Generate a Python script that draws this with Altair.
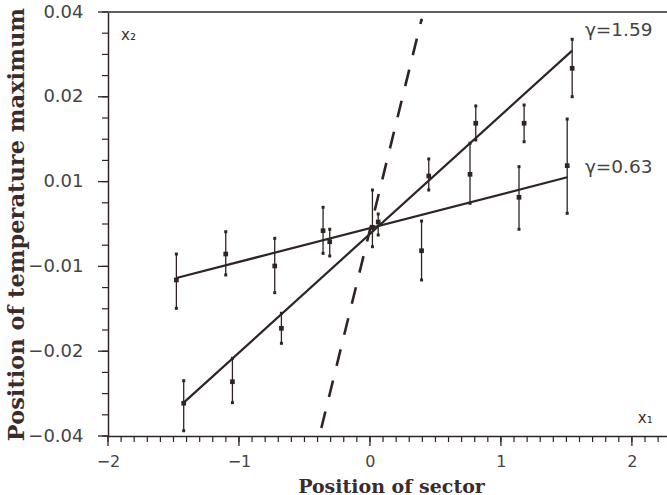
import json
import altair as alt
import pandas as pd

# ---- data (y in axis-position units: 0 = bottom tick, 5 = top tick) ----
x_low = [-1.478, -1.101, -0.727, -0.358, 0.019, 0.394, 0.764, 1.138, 1.506]
y_low = [1.840, 2.146, 2.005, 2.421, 2.461, 2.185, 3.086, 2.815, 3.188]
lo_low = [1.506, 1.899, 1.690, 2.154, 2.232, 1.840, 2.744, 2.438, 2.626]
hi_low = [2.146, 2.409, 2.331, 2.697, 2.901, 2.535, 3.452, 3.176, 3.738]

x_high = [-1.422, -1.050, -0.676, -0.307, 0.063, 0.449, 0.808, 1.177, 1.544]
y_high = [0.386, 0.640, 1.270, 2.291, 2.524, 3.066, 3.688, 3.688, 4.336]
lo_high = [0.062, 0.393, 1.093, 2.123, 2.370, 2.901, 3.491, 3.470, 4.001]
hi_high = [0.652, 0.916, 1.447, 2.438, 2.618, 3.267, 3.892, 3.903, 4.678]

fit_series = ["γ=0.63", "γ=0.63", "γ=1.59", "γ=1.59"]
fit_x = [-1.478, 1.506, -1.422, 1.544]
fit_y = [1.863, 3.051, 0.393, 4.544]

dash_x = [-0.371, 0.393]
dash_y = [0.094, 4.906]

ann_text = ["γ=1.59", "γ=0.63"]
ann_x = [1.641, 1.641]
ann_y = [4.788, 3.172]

var_text = ["x₂", "x₁"]
var_x = [-1.90, 2.045]
var_y = [4.729, 0.212]

y_tick_labels = ["−0.04", "−0.02", "−0.01", "0.01", "0.02", "0.04"]
x_major = [-2, -1, 0, 1, 2]
y_major = [0, 1, 2, 3, 4, 5]
x_minor = [round(-2 + 0.1 * k, 1) for k in range(43)]
y_minor = [round(0.25 * k, 2) for k in range(21)]

W, H = 559, 424
INK = "#2e2424"

rows = []
for s, xs, ys, los, his in [("γ=0.63", x_low, y_low, lo_low, hi_low),
                            ("γ=1.59", x_high, y_high, lo_high, hi_high)]:
    for a, b, c, d in zip(xs, ys, los, his):
        rows.append({"series": s, "x": a, "y": b, "lo": c, "hi": d})
pts = pd.DataFrame(rows)
ends = pd.concat([pts.assign(e=pts["lo"]), pts.assign(e=pts["hi"])])
fit = pd.DataFrame({"series": fit_series, "x": fit_x, "y": fit_y})
dash = pd.DataFrame({"x": dash_x, "y": dash_y})
ann = pd.DataFrame({"t": ann_text, "x": ann_x, "y": ann_y})
var = pd.DataFrame({"t": var_text, "x": var_x, "y": var_y})

labels_js = json.dumps(y_tick_labels, ensure_ascii=False)

xscale = alt.Scale(domain=[-2, 2.268], nice=False, zero=False)
yscale = alt.Scale(domain=[0, 5], nice=False, zero=False)

xaxis = alt.Axis(
    values=x_major, format=".0f", ticks=False,
    grid=False, labelFlush=False, labelOverlap=False, labelPadding=17,
    labelFont="DejaVu Sans", labelFontSize=16, labelColor="#444",
    domainColor=INK, domainWidth=1.5,
    title="Position of sector", titleFont="DejaVu Serif", titleFontSize=19,
    titleFontWeight="bold", titleColor="#3a2c2c", titleX=283, titleY=56,
    titleBaseline="alphabetic", titleAlign="center",
)
yaxis = alt.Axis(
    values=y_major, ticks=False,
    labelExpr=f"{labels_js}[round(datum.value)]",
    grid=False, labelFlush=False, labelOverlap=False, labelPadding=25,
    labelFont="DejaVu Sans", labelFontSize=18, labelColor="#444",
    domainColor=INK, domainWidth=1.5,
    title="Position of temperature maximum", titleFont="DejaVu Serif",
    titleFontSize=22.5, titleFontWeight="bold", titleColor="#3a2c2c",
    titleX=-92, titleY=212, titleAngle=-90, titleBaseline="middle", titleAlign="center",
)

X = lambda f: alt.X(f, scale=xscale)
Y = lambda f: alt.Y(f, scale=yscale)

bars = alt.Chart(pts).mark_rule(color=INK, strokeWidth=1.3).encode(
    x=alt.X("x:Q", scale=xscale, axis=xaxis),
    y=alt.Y("lo:Q", scale=yscale, axis=yaxis), y2="hi:Q")
caps = alt.Chart(ends).mark_point(shape="square", filled=True, size=9, color=INK, opacity=1).encode(
    x=X("x:Q"), y=Y("e:Q"))
marks = alt.Chart(pts).mark_point(shape="square", filled=True, size=22, color=INK, opacity=1).encode(
    x=X("x:Q"), y=Y("y:Q"))
lines = alt.Chart(fit).mark_line(color=INK, strokeWidth=2.2).encode(
    x=X("x:Q"), y=Y("y:Q"), detail="series:N")
dashed = alt.Chart(dash).mark_line(color=INK, strokeWidth=2.6, strokeDash=[17, 15]).encode(
    x=X("x:Q"), y=Y("y:Q"))
dot = alt.Chart(dash.tail(1)).mark_point(shape="circle", filled=True, size=10, color=INK, opacity=1).encode(
    x=X("x:Q"), y=Y("y:Q"))
ann_txt = alt.Chart(ann).mark_text(align="left", baseline="middle", font="DejaVu Sans",
                                   fontSize=18.5, color="#444").encode(
    x=X("x:Q"), y=Y("y:Q"), text="t:N")
var_txt = alt.Chart(var).mark_text(align="left", baseline="middle", font="DejaVu Sans",
                                   fontSize=15, color="#333").encode(
    x=X("x:Q"), y=Y("y:Q"), text="t:N")
top = alt.Chart(dash).mark_rule(color="#555", strokeWidth=1.5).encode(
    x=alt.value(0), x2=alt.value(W), y=alt.value(0))

# axis tick marks (minor + major) drawn through the scales
xmin_df = pd.DataFrame({"x": x_minor})
xmaj_df = pd.DataFrame({"x": x_major})
ymin_df = pd.DataFrame({"y": y_minor})
ymaj_df = pd.DataFrame({"y": y_major})
xt_minor = alt.Chart(xmin_df).mark_rule(color=INK, strokeWidth=1.2).encode(
    x=X("x:Q"), y=alt.value(H), y2=alt.value(H + 6))
xt_major = alt.Chart(xmaj_df).mark_rule(color=INK, strokeWidth=1.3).encode(
    x=X("x:Q"), y=alt.value(H), y2=alt.value(H + 10))
yt_minor = alt.Chart(ymin_df).mark_rule(color=INK, strokeWidth=1.2).encode(
    y=Y("y:Q"), x=alt.value(0), x2=alt.value(-6))
yt_major = alt.Chart(ymaj_df).mark_rule(color=INK, strokeWidth=1.3).encode(
    y=Y("y:Q"), x=alt.value(0), x2=alt.value(-10))

chart = alt.layer(bars, caps, marks, lines, dashed, dot, ann_txt, var_txt, top,
                  xt_minor, xt_major, yt_minor, yt_major).properties(
    width=W, height=H,
    autosize=alt.AutoSizeParams(type="none"),
    padding={"left": 108, "top": 12, "right": 0, "bottom": 59},
).configure_view(stroke=None).configure(background="white")

chart.save("out.html", embed_options={"renderer": "svg", "actions": False})
